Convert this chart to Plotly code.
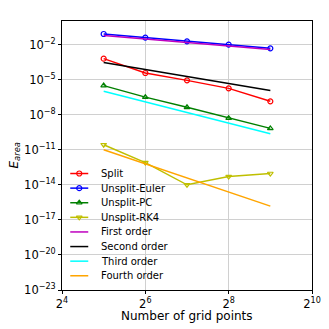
import plotly.graph_objects as go

# grid sizes
n_points = [32, 64, 128, 256, 512]

# measured area errors
err_split = [6.3e-4, 3.7e-5, 8.7e-6, 1.8e-6, 1.4e-7]
err_euler = [0.081, 0.040, 0.019, 0.010, 0.0048]
err_pc = [3.1e-6, 3.2e-7, 4.3e-8, 5.1e-9, 6.8e-10]
err_rk4 = [2.7e-11, 8.0e-13, 1.0e-14, 5.1e-14, 9.3e-14]

# reference slopes
first_order = [0.06, 0.03, 0.015, 0.0075, 0.00375]
second_order = [3.0e-4, 7.5e-5, 1.9e-5, 4.7e-6, 1.2e-6]
third_order = [1.0e-6, 1.25e-7, 1.6e-8, 2.0e-9, 2.4e-10]
fourth_order = [1.0e-11, 6.3e-13, 3.9e-14, 2.4e-15, 1.5e-16]

x_ticks = [16, 64, 256, 1024]
x_tick_text = ['2<sup>4</sup>', '2<sup>6</sup>', '2<sup>8</sup>', '2<sup>10</sup>']
y_ticks = [1e-23, 1e-20, 1e-17, 1e-14, 1e-11, 1e-8, 1e-5, 1e-2]
y_tick_text = ['10<sup>\u221223</sup>', '10<sup>\u221220</sup>', '10<sup>\u221217</sup>',
               '10<sup>\u221214</sup>', '10<sup>\u221211</sup>', '10<sup>\u22128</sup>',
               '10<sup>\u22125</sup>', '10<sup>\u22122</sup>']

fig = go.Figure()
entries = []  # (name, color, symbol) for the hand-made legend

def add_errors(y, name, color, symbol):
    fig.add_trace(go.Scatter(x=n_points, y=y, name=name, mode='lines+markers',
                             line=dict(color=color, width=1.5),
                             marker=dict(symbol=symbol, size=5, color='rgba(0,0,0,0)',
                                         line=dict(color=color, width=1.2))))
    entries.append((name, color, symbol))

def add_order(y, name, color):
    fig.add_trace(go.Scatter(x=n_points, y=y, name=name, mode='lines',
                             line=dict(color=color, width=1.5)))
    entries.append((name, color, None))

add_errors(err_split, 'Split', 'red', 'circle')
add_errors(err_euler, 'Unsplit-Euler', 'blue', 'circle')
add_errors(err_pc, 'Unsplit-PC', 'green', 'triangle-up')
add_errors(err_rk4, 'Unsplit-RK4', '#bfbf00', 'triangle-down')
add_order(first_order, 'First order', '#bf00bf')
add_order(second_order, 'Second order', 'black')
add_order(third_order, 'Third order', 'cyan')
add_order(fourth_order, 'Fourth order', 'orange')

# legend drawn on an overlay axis (plotly's legend rows are too tall here)
row_top = 0.433
row_step = 0.0543
for i, (name, color, symbol) in enumerate(entries):
    yy = row_top - i * row_step
    fig.add_trace(go.Scatter(x=[0.033, 0.105], y=[yy, yy], mode='lines',
                             line=dict(color=color, width=1.5), xaxis='x2', yaxis='y2',
                             hoverinfo='skip'))
    if symbol:
        fig.add_trace(go.Scatter(x=[0.069], y=[yy], mode='markers', xaxis='x2', yaxis='y2',
                                 marker=dict(symbol=symbol, size=5, color='rgba(0,0,0,0)',
                                             line=dict(color=color, width=1.2)),
                                 hoverinfo='skip'))
    fig.add_annotation(x=0.148, y=yy, xref='x2', yref='y2', text=name, showarrow=False,
                       xanchor='left', yanchor='middle', font=dict(size=10, color='black'))

# axis titles
fig.add_annotation(x=0.5, y=0, xref='paper', yref='paper', text='Number of grid points',
                   showarrow=False, xanchor='center', yanchor='middle', yshift=-26,
                   font=dict(size=12, color='black'))
fig.add_annotation(x=0, y=0.5, xref='paper', yref='paper',
                   text='<i>E</i><sub><i>area</i></sub>', textangle=-90,
                   showarrow=False, xanchor='center', yanchor='middle', xshift=-48,
                   font=dict(size=12, color='black'))

axis_style = dict(showline=True, linecolor='black', linewidth=1, mirror=True,
                  ticks='outside', ticklen=3, tickcolor='black', automargin=False,
                  showgrid=True, gridcolor='#d0d0d0', gridwidth=1, zeroline=False,
                  tickfont=dict(size=11.5, color='black'))

fig.update_xaxes(type='log', range=[1.20412, 3.0103], tickvals=x_ticks,
                 ticktext=x_tick_text, **axis_style)
fig.update_yaxes(type='log', range=[-23, 0.02], tickvals=y_ticks, ticktext=y_tick_text,
                 **axis_style)

# the page adds an 8px body margin, so the margins are shifted to match
fig.update_layout(width=329, height=329,
                  margin=dict(l=54, r=25, t=13, b=47),
                  plot_bgcolor='white', paper_bgcolor='white',
                  font=dict(family='DejaVu Sans', color='black'),
                  showlegend=False,
                  xaxis2=dict(overlaying='x', range=[0, 1], visible=False, fixedrange=True),
                  yaxis2=dict(overlaying='y', range=[0, 1], visible=False, fixedrange=True))

fig.write_html("out.html")
